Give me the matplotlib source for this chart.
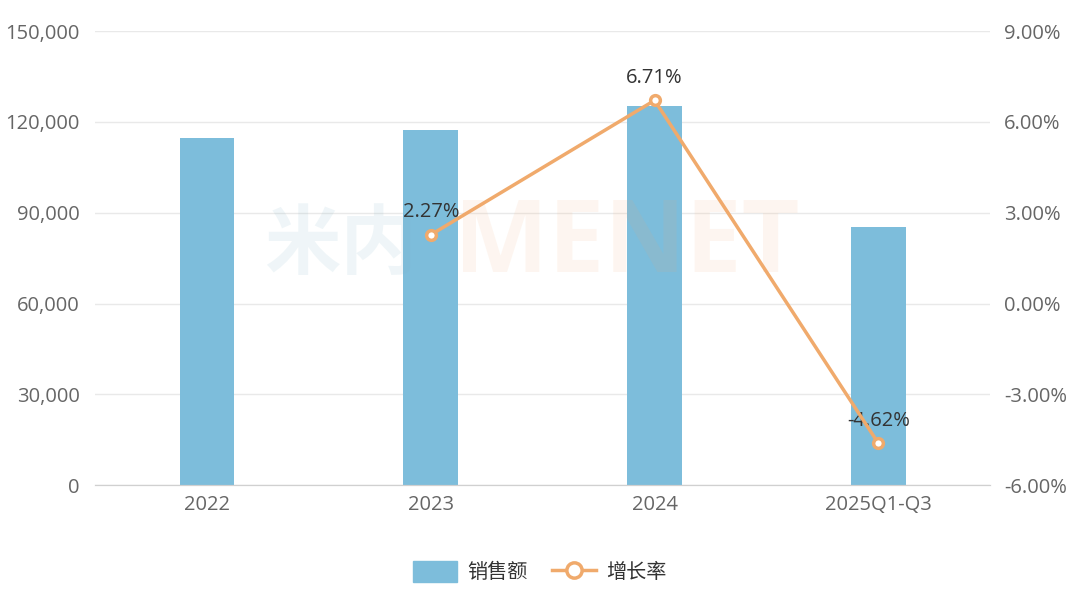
import numpy as np
import matplotlib.pyplot as plt
from matplotlib.patches import Patch
from matplotlib.lines import Line2D

plt.rcParams['font.family'] = ['Open Sans', 'Noto Sans CJK SC', 'DejaVu Sans']

# data
periods = ['2022', '2023', '2024', '2025Q1-Q3']
sales = [114600, 117300, 125200, 85200]
growth_periods = ['2023', '2024', '2025Q1-Q3']
growth = [2.27, 6.71, -4.62]

bar_color = '#7dbddb'
line_color = '#f0aa6c'
tick_color = '#666666'

fig = plt.figure(figsize=(10.8, 5.91), dpi=100)
ax = fig.add_axes([0.088, 0.179, 0.829, 0.7685])
ax2 = ax.twinx()

x = np.arange(len(periods))
ax.bar(x, sales, width=0.245, color=bar_color, zorder=2)
ax.set_xlim(-0.5, len(periods) - 0.5)
ax.set_ylim(0, 150000)
ax.set_yticks(np.arange(0, 150001, 30000))
ax.set_yticklabels([f'{int(v):,}' for v in np.arange(0, 150001, 30000)])
ax.set_xticks(x)
ax.set_xticklabels(periods)
ax.grid(axis='y', color='#e9e9e9', linewidth=1, zorder=0)
ax.set_axisbelow(True)

gx = [periods.index(p) for p in growth_periods]
ax2.plot(gx, growth, color=line_color, linewidth=2.5, marker='o', markersize=7,
         markerfacecolor='white', markeredgecolor=line_color, markeredgewidth=2.5, zorder=5)
for xi, g in zip(gx, growth):
    ax2.annotate(f'{g:.2f}%', (xi, g), xytext=(0, 9), textcoords='offset points',
                 ha='center', va='bottom', fontsize=14.5, color='#333333')
ax2.set_ylim(-6, 9)
ax2.set_yticks(np.arange(-6, 9.01, 3))
ax2.set_yticklabels([f'{v:.2f}%' for v in np.arange(-6, 9.01, 3)])

for a in (ax, ax2):
    for s in ('top', 'left', 'right'):
        a.spines[s].set_visible(False)
    a.spines['bottom'].set_color('#d0d0d0')
    a.tick_params(axis='both', length=0, labelsize=14.5, labelcolor=tick_color)
ax.tick_params(axis='y', pad=11)
ax.tick_params(axis='x', pad=7)
ax2.tick_params(axis='y', pad=10)

# watermark
fig.text(0.315, 0.585, '米内', fontsize=55, fontweight='bold', color='#7fb3c8',
         alpha=0.12, ha='center', va='center', zorder=10, family='Noto Sans CJK SC')
fig.text(0.58, 0.585, 'MENET', fontsize=72, fontweight='bold', color='#f3a66c',
         alpha=0.10, ha='center', va='center', zorder=10)

handles = [Patch(facecolor=bar_color, edgecolor=bar_color),
           Line2D([0], [0], color=line_color, linewidth=2.5, marker='o', markersize=11,
                  markerfacecolor='white', markeredgewidth=2.5)]
fig.legend(handles, ['销售额', '增长率'], loc='center', bbox_to_anchor=(0.5, 0.032),
           ncol=2, frameon=False, fontsize=14.5, handlelength=2.2, handleheight=1.2,
           handletextpad=0.5, columnspacing=1.2, labelcolor='#333333')

fig.savefig('out.png', dpi=100)
